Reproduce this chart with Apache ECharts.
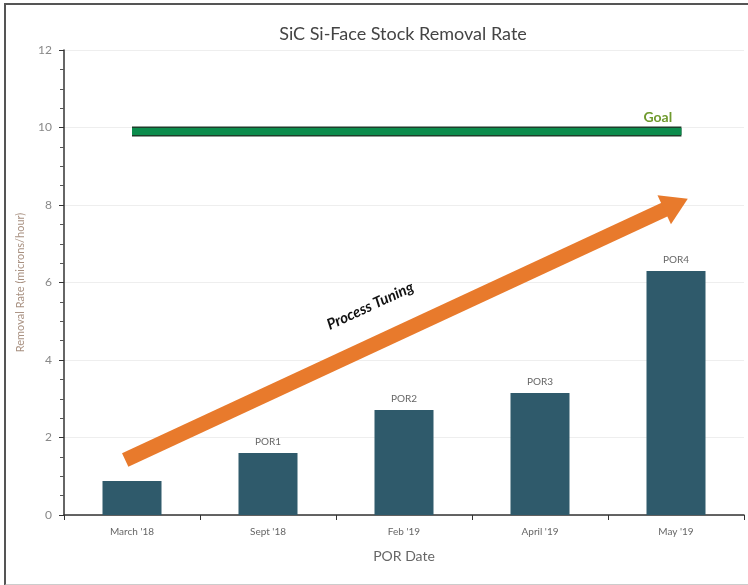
<!DOCTYPE html>
<html>
<head>
<meta charset="utf-8">
<script src="https://cdn.jsdelivr.net/npm/echarts@6/dist/echarts.min.js"></script>
<style>
	html,body{margin:0;padding:0;background:#fff;}
	#frame{position:absolute;left:4px;top:3px;width:744px;height:579px;border-top:2px solid #555;border-left:2px solid #555;border-bottom:2px solid #ccc;}
	#charts{position:absolute;left:0;top:0;width:748px;height:585px;}
</style>
</head>
<body>
<div id="frame"></div>
<div id="charts"></div>
<script>
// 数据
var categories = ["March '18", "Sept '18", "Feb '19", "April '19", "May '19"];
var rates = [0.88, 1.6, 2.71, 3.15, 6.3];
var barLabels = ['', 'POR1', 'POR2', 'POR3', 'POR4'];
var yTicks = [0, 2, 4, 6, 8, 10, 12];
var goalValue = 9.9;
var goalSpan = [0, 4.04];          // 目标线起止 (类目序号)
var arrowFrom = [-0.05, 1.42];     // 箭头起点
var arrowTo = [4.0, 8.02];         // 箭头终点

var font = 'Lato';
var myChart = echarts.init(document.getElementById('charts'));

var goalData = [[goalSpan[0], goalValue], [goalSpan[1], goalValue]];

var option = {
	animation: false,
	textStyle: {fontFamily: font},
	title: {
		text: 'SiC Si-Face Stock Removal Rate',
		left: 398, top: 20, textAlign: 'center',
		textStyle: {fontFamily: font, fontSize: 18, fontWeight: 'normal', color: '#444'}
	},
	grid: {left: 64, right: 4, top: 50, bottom: 70},
	xAxis: [
		{
			type: 'category',
			data: categories,
			name: 'POR Date',
			nameLocation: 'middle',
			nameGap: 34,
			nameTextStyle: {fontFamily: font, fontSize: 14, color: '#666'},
			axisLine: {lineStyle: {color: '#333', width: 1.5}},
			axisTick: {show: true, length: 5, lineStyle: {color: '#333'}},
			axisLabel: {fontFamily: font, fontSize: 10, color: '#666', margin: 12}
		},
		{
			type: 'value', min: -0.5, max: 4.5, show: false
		}
	],
	yAxis: {
		type: 'value',
		min: 0, max: 12, interval: 2,
		name: 'Removal Rate (microns/hour)',
		nameLocation: 'middle',
		nameGap: 38,
		nameTextStyle: {fontFamily: font, fontSize: 11, color: '#a89080'},
		axisLine: {show: true, onZero: false, lineStyle: {color: '#333', width: 1.5}},
		axisTick: {show: true, length: 5, lineStyle: {color: '#333'}},
		minorTick: {show: true, splitNumber: 4, length: 4, lineStyle: {color: '#555'}},
		axisLabel: {fontFamily: font, fontSize: 12, color: '#888', margin: 12,
			formatter: function (v) { return yTicks.indexOf(v) >= 0 ? v : ''; }},
		splitLine: {show: true, lineStyle: {color: '#eee'}}
	},
	series: [
		{
			type: 'bar',
			data: rates,
			barWidth: 59,
			itemStyle: {color: '#2f5a6b'},
			label: {
				show: true, position: 'top', distance: 6,
				fontFamily: font, fontSize: 10, color: '#666',
				formatter: function (p) { return barLabels[p.dataIndex]; }
			}
		},
		// 目标线 外框
		{
			type: 'line', xAxisIndex: 1, data: goalData, symbol: 'none', silent: true,
			lineStyle: {color: '#1e3d2a', width: 10, cap: 'butt'}
		},
		{
			type: 'line', xAxisIndex: 1, data: goalData, symbol: 'none', silent: true,
			lineStyle: {color: '#0b8c4c', width: 7, cap: 'butt'},
			endLabel: {
				show: true, formatter: 'Goal', offset: [-46, -14],
				fontFamily: font, fontSize: 14, fontWeight: 'bold', color: '#6f9a2e'
			}
		},
		// 箭头
		{
			type: 'line', xAxisIndex: 1, data: [], silent: true,
			markLine: {
				silent: true,
				symbol: ['none', 'triangle'],
				symbolSize: [32, 26],
				lineStyle: {color: '#e87a2c', width: 15, type: 'solid'},
				label: {
					show: true, position: 'insideMiddleTop', formatter: 'Process Tuning',
					distance: 32, offset: [-30, 0],
					fontFamily: font, fontSize: 15, fontWeight: 'bold', fontStyle: 'italic', color: '#111'
				},
				data: [[{coord: arrowFrom}, {coord: arrowTo}]]
			}
		}
	]
};
myChart.setOption(option);
</script>
</body>
</html>
